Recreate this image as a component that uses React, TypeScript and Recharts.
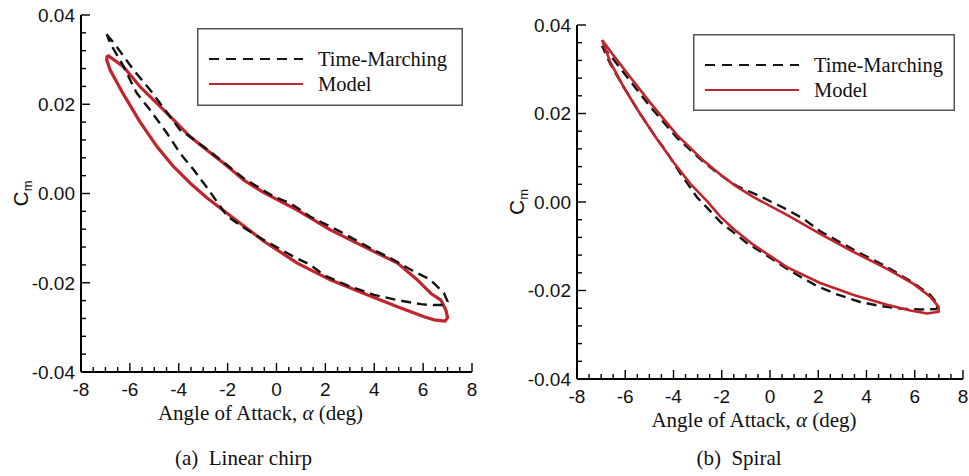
import React from 'react';
import { LineChart, Line, XAxis, YAxis, Legend } from 'recharts';

// ---------- axes / ticks ----------
const xMajorTicks = [-8, -6, -4, -2, 0, 2, 4, 6, 8];
const xTickLabels = ['-8', '-6', '-4', '-2', '0', '2', '4', '6', '8'];
const xMinorTicks = [-7.5, -7, -6.5, -5.5, -5, -4.5, -3.5, -3, -2.5, -1.5, -1, -0.5, 0.5, 1, 1.5, 2.5, 3, 3.5, 4.5, 5, 5.5, 6.5, 7, 7.5];
const yMajorTicks = [-0.04, -0.02, 0, 0.02, 0.04];
const yTickLabels = ['-0.04', '-0.02', '0.00', '0.02', '0.04'];
const yMinorTicks = [-0.036, -0.032, -0.028, -0.024, -0.016, -0.012, -0.008, -0.004, 0.004, 0.008, 0.012, 0.016, 0.024, 0.028, 0.032, 0.036];

const seriesNames = ['Time-Marching', 'Model'];
const captions = ['(a)\u00a0\u00a0Linear chirp', '(b)\u00a0\u00a0Spiral'];

// ---------- data: [alpha (deg), Cm] in loop order ----------
const chirpTimeMarching: [number, number][] = [
  [-6.95, 0.0357], [-6.54, 0.0329], [-5.85, 0.0277], [-5.17, 0.0232], [-4.35, 0.0172],
  [-3.94, 0.0142], [-3.53, 0.0127], [-2.84, 0.0099], [-2.16, 0.0070], [-1.34, 0.0034],
  [-0.11, -0.0007], [0.57, -0.0022], [1.39, -0.0052], [2.63, -0.0086], [3.99, -0.0127],
  [4.68, -0.0145], [5.50, -0.0171], [6.18, -0.0190], [6.44, -0.0201], [6.85, -0.0223],
  [7.00, -0.0242], [6.89, -0.0250], [6.32, -0.0250], [5.91, -0.0248], [4.95, -0.0239],
  [3.99, -0.0227], [2.90, -0.0206], [1.94, -0.0183], [1.39, -0.0160], [0.71, -0.0142],
  [-0.52, -0.0104], [-1.30, -0.0078], [-2.03, -0.0050], [-2.84, 0.0013], [-3.39, 0.0053],
  [-3.94, 0.0090], [-4.48, 0.0135], [-5.17, 0.0187], [-5.72, 0.0225], [-6.33, 0.0292],
  [-6.81, 0.0337], [-6.95, 0.0357],
];

const chirpModel: [number, number][] = [
  [-6.92, 0.0310], [-6.26, 0.0284], [-5.58, 0.0239], [-4.89, 0.0202], [-4.21, 0.0165],
  [-3.53, 0.0127], [-2.84, 0.0097], [-2.16, 0.0068], [-1.34, 0.0030], [-0.52, 0.0002],
  [0.85, -0.0037], [2.22, -0.0082], [3.58, -0.0119], [4.95, -0.0156], [5.77, -0.0194],
  [6.32, -0.0224], [6.73, -0.0239], [6.93, -0.0261], [7.00, -0.0278], [6.90, -0.0286],
  [6.44, -0.0283], [6.04, -0.0276], [4.95, -0.0254], [3.58, -0.0224], [2.22, -0.0194],
  [0.85, -0.0156], [-0.52, -0.0107], [-1.89, -0.0050], [-2.84, -0.0010], [-3.53, 0.0023],
  [-4.21, 0.0060], [-4.89, 0.0105], [-5.58, 0.0160], [-6.26, 0.0222], [-6.81, 0.0277],
  [-6.95, 0.0300], [-6.92, 0.0310],
];

const spiralTimeMarching: [number, number][] = [
  [-6.96, 0.0353], [-6.50, 0.0323], [-5.79, 0.0273], [-4.96, 0.0215], [-3.85, 0.0145],
  [-2.75, 0.0090], [-2.06, 0.0061], [-1.37, 0.0036], [-0.54, 0.0016], [0.56, -0.0013],
  [1.39, -0.0038], [2.08, -0.0066], [3.47, -0.0108], [4.85, -0.0147], [5.95, -0.0183],
  [6.64, -0.0210], [6.99, -0.0233], [6.89, -0.0242], [6.23, -0.0243], [5.40, -0.0241],
  [4.57, -0.0235], [3.74, -0.0226], [2.78, -0.0209], [1.95, -0.0190], [1.26, -0.0169],
  [0.70, -0.0151], [0.15, -0.0131], [-0.95, -0.0093], [-2.06, -0.0045], [-2.64, -0.0011],
  [-3.03, 0.0011], [-3.72, 0.0065], [-4.34, 0.0118], [-4.68, 0.0142], [-5.38, 0.0199],
  [-6.07, 0.0260], [-6.62, 0.0312], [-6.96, 0.0353],
];

const spiralModel: [number, number][] = [
  [-6.96, 0.0366], [-6.50, 0.0332], [-5.79, 0.0282], [-4.96, 0.0224], [-3.85, 0.0151],
  [-2.75, 0.0093], [-2.06, 0.0062], [-1.37, 0.0034], [-0.68, 0.0011], [0.70, -0.0029],
  [2.08, -0.0072], [3.47, -0.0113], [4.85, -0.0151], [5.95, -0.0185], [6.64, -0.0214],
  [6.99, -0.0237], [6.99, -0.0248], [6.51, -0.0252], [5.82, -0.0245], [4.85, -0.0232],
  [3.47, -0.0210], [2.08, -0.0183], [0.70, -0.0147], [-0.68, -0.0097], [-1.51, -0.0061],
  [-2.06, -0.0033], [-2.61, 0.0002], [-3.30, 0.0041], [-4.00, 0.0090], [-4.68, 0.0142],
  [-5.38, 0.0199], [-6.07, 0.0260], [-6.62, 0.0316], [-6.96, 0.0366],
];

const toRows = (pts: [number, number][]) => pts.map(([x, y]) => ({ x, y }));

const RED = '#c0242c';
const BLACK = '#141414';
const SANS = 'Liberation Sans, Arial, Helvetica, sans-serif';
const SERIF = 'Liberation Serif, Times New Roman, serif';

const near = (a: number, b: number) => Math.abs(a - b) < 1e-9;

const XTick = (props: any) => {
  const { x, y, payload } = props;
  const idx = xMajorTicks.findIndex((t) => near(t, payload.value));
  const major = idx >= 0;
  return (
    <g>
      <line x1={x} x2={x} y1={y} y2={y - (major ? 9 : 5)} stroke="#000" strokeWidth={1.4} />
      {major && (
        <text x={x} y={y + 23.5} textAnchor="middle" fontFamily={SANS} fontSize={19} fill="#111">
          {xTickLabels[idx]}
        </text>
      )}
    </g>
  );
};

const YTick = (props: any) => {
  const { x, y, payload } = props;
  const idx = yMajorTicks.findIndex((t) => near(t, payload.value));
  const major = idx >= 0;
  return (
    <g>
      <line x1={x} x2={x + (major ? 9 : 5)} y1={y} y2={y} stroke="#000" strokeWidth={1.4} />
      {major && (
        <text x={x - 6} y={y} dy="0.36em" textAnchor="end" fontFamily={SANS} fontSize={19} fill="#111">
          {yTickLabels[idx]}
        </text>
      )}
    </g>
  );
};

const XTitle = (props: any) => {
  const vb = props.viewBox;
  return (
    <text x={vb.x + vb.width / 2 - 16} y={vb.y + 48} textAnchor="middle" fontFamily={SERIF} fontSize={21} fill="#111">
      {'Angle of Attack, '}
      <tspan fontStyle="italic">α</tspan>
      {' (deg)'}
    </text>
  );
};

const YTitle = (props: any) => {
  const vb = props.viewBox;
  const cx = vb.x + 7;
  const cy = vb.y + vb.height / 2;
  return (
    <text x={cx} y={cy} transform={`rotate(-90, ${cx}, ${cy})`} textAnchor="middle" fontFamily={SANS} fontSize={21} fill="#111">
      C<tspan fontSize={13} dy={4}>m</tspan>
    </text>
  );
};

const LegendBox = ({ w, h }: { w: number; h: number }) => (
  <svg width={w} height={h} style={{ display: 'block' }}>
    <rect x={0.75} y={0.75} width={w - 1.5} height={h - 1.5} fill="#fff" stroke="#555" strokeWidth={1.5} />
    <line x1={12} x2={106} y1={31} y2={31} stroke={BLACK} strokeWidth={2.2} strokeDasharray="10 7" />
    <line x1={12} x2={106} y1={56} y2={56} stroke={RED} strokeWidth={2.2} />
    <text x={121} y={31} dy="0.33em" fontFamily={SERIF} fontSize={20.5} fill="#111">{seriesNames[0]}</text>
    <text x={121} y={56} dy="0.33em" fontFamily={SERIF} fontSize={20.5} fill="#111">{seriesNames[1]}</text>
  </svg>
);

type PanelProps = {
  left: number;
  width: number;
  margin: { top: number; right: number; left: number; bottom: number };
  tm: [number, number][];
  model: [number, number][];
  legend: { left: number; top: number; w: number; h: number };
  redOnTop: boolean;
  redWidth: number;
};

const Panel = ({ left, width, margin, tm, model, legend, redOnTop, redWidth }: PanelProps) => {
  const tmLine = (
    <Line
      key="tm"
      data={toRows(tm)}
      dataKey="y"
      name={seriesNames[0]}
      type="linear"
      stroke={BLACK}
      strokeWidth={2.4}
      strokeDasharray="10 6"
      dot={false}
      activeDot={false}
      isAnimationActive={false}
    />
  );
  const modelLine = (
    <Line
      key="model"
      data={toRows(model)}
      dataKey="y"
      name={seriesNames[1]}
      type="linear"
      stroke={RED}
      strokeWidth={redWidth}
      strokeLinejoin="round"
      dot={false}
      activeDot={false}
      isAnimationActive={false}
    />
  );
  return (
    <div style={{ position: 'absolute', left, top: 0 }}>
      <LineChart width={width} height={476} margin={margin}>
        <XAxis
          dataKey="x"
          type="number"
          domain={[-8, 8]}
          allowDataOverflow
          ticks={[...xMajorTicks, ...xMinorTicks].sort((a, b) => a - b)}
          interval={0}
          tick={<XTick />}
          tickLine={false}
          tickSize={0}
          tickMargin={0}
          height={40}
          axisLine={{ stroke: '#000', strokeWidth: 2 }}
          label={{ content: XTitle }}
        />
        <XAxis
          xAxisId="top"
          orientation="top"
          type="number"
          domain={[-8, 8]}
          height={0}
          tick={false}
          tickLine={false}
          axisLine={{ stroke: '#000', strokeWidth: 2 }}
        />
        <YAxis
          type="number"
          domain={[-0.04, 0.04]}
          allowDataOverflow
          ticks={[...yMajorTicks, ...yMinorTicks].sort((a, b) => a - b)}
          interval={0}
          tick={<YTick />}
          tickLine={false}
          tickSize={0}
          tickMargin={0}
          width={60}
          axisLine={{ stroke: '#000', strokeWidth: 2 }}
          label={{ content: YTitle }}
        />
        <YAxis
          yAxisId="right"
          orientation="right"
          type="number"
          domain={[-0.04, 0.04]}
          width={0}
          tick={false}
          tickLine={false}
          axisLine={{ stroke: '#000', strokeWidth: 2 }}
        />
        {redOnTop ? [tmLine, modelLine] : [modelLine, tmLine]}
        <Legend
          layout="horizontal"
          verticalAlign="middle"
          align="center"
          wrapperStyle={{ position: 'absolute', left: legend.left, top: legend.top, width: legend.w, height: legend.h }}
          content={() => <LegendBox w={legend.w} h={legend.h} />}
        />
      </LineChart>
    </div>
  );
};

const Caption = ({ cx, text }: { cx: number; text: string }) => (
  <div
    style={{
      position: 'absolute',
      left: cx - 150,
      top: 448,
      width: 300,
      textAlign: 'center',
      fontFamily: SERIF,
      fontSize: 21,
      lineHeight: '20px',
      color: '#111',
      whiteSpace: 'pre',
    }}
  >
    {text}
  </div>
);

export default function App() {
  return (
    <div style={{ position: 'absolute', left: 0, top: 0, width: 969, height: 476, background: '#fff', overflow: 'hidden' }}>
      <Panel
        left={0}
        width={480}
        margin={{ top: 15, right: 8, left: 21, bottom: 64 }}
        tm={chirpTimeMarching}
        model={chirpModel}
        legend={{ left: 197, top: 28, w: 266, h: 78 }}
        redOnTop={false}
        redWidth={3.2}
      />
      <Panel
        left={490}
        width={479}
        margin={{ top: 25, right: 6, left: 27, bottom: 57 }}
        tm={spiralTimeMarching}
        model={spiralModel}
        legend={{ left: 203, top: 34, w: 262, h: 77 }}
        redOnTop={true}
        redWidth={2.6}
      />
      <Caption cx={243.5} text={captions[0]} />
      <Caption cx={739} text={captions[1]} />
    </div>
  );
}
